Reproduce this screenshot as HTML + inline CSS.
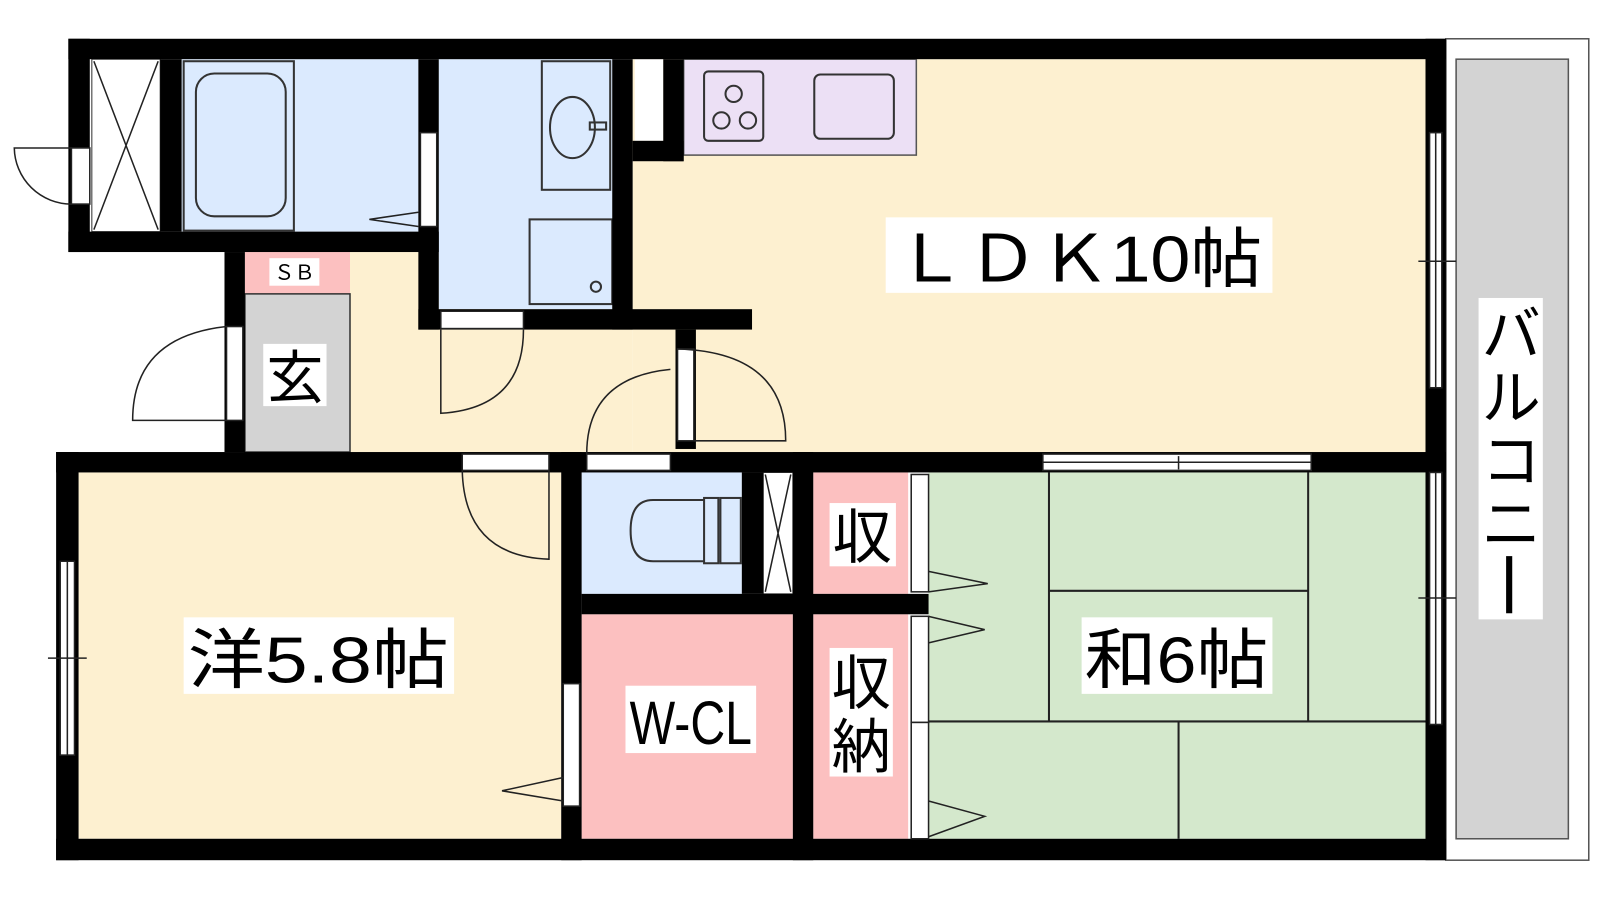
<!DOCTYPE html>
<html><head><meta charset="utf-8"><style>
html,body{margin:0;padding:0;background:#fff;width:1600px;height:900px;overflow:hidden}
svg{display:block}
text{font-family:"Liberation Sans","Noto Sans CJK JP",sans-serif;fill:#000}
</style></head><body>
<svg width="1600" height="900" viewBox="0 0 1600 900" xmlns="http://www.w3.org/2000/svg">
<g transform="scale(1.0204)">
<!-- floors -->
<rect x="620" y="58" width="777" height="385" fill="#fdf0d0"/>
<rect x="343" y="247" width="277" height="196" fill="#fdf0d0"/>
<rect x="178" y="58" width="232" height="169" fill="#dbeafe"/>
<rect x="430" y="58" width="170" height="245" fill="#dbeafe"/>
<rect x="670" y="58" width="228" height="94" fill="#ece0f5" stroke="#555" stroke-width="1.5"/>
<rect x="622" y="58" width="28" height="80" fill="#fff"/>
<rect x="240" y="247" width="103" height="41" fill="#fcc0c0"/>
<rect x="240" y="288" width="103" height="155" fill="#d3d3d3" stroke="#333" stroke-width="1.5"/>
<rect x="77" y="463" width="473" height="359" fill="#fdf0d0"/>
<rect x="570" y="463" width="157" height="119" fill="#dbeafe"/>
<rect x="570" y="602" width="207" height="220" fill="#fcc0c0"/>
<rect x="797" y="463" width="93" height="119" fill="#fcc0c0"/>
<rect x="797" y="602" width="93" height="220" fill="#fcc0c0"/>
<rect x="910" y="463" width="487" height="359" fill="#d4e8cc"/>
<!-- balcony -->
<rect x="1417" y="38" width="140" height="805" fill="#fff" stroke="#555" stroke-width="1.5"/>
<rect x="1427" y="58" width="110" height="764" fill="#d3d3d3" stroke="#555" stroke-width="1.5"/>
<!-- tatami lines -->
<g stroke="#222" stroke-width="2" fill="none">
<line x1="1028" y1="463" x2="1028" y2="707"/><line x1="1282" y1="463" x2="1282" y2="707"/>
<line x1="1028" y1="579" x2="1282" y2="579"/><line x1="910" y1="707" x2="1397" y2="707"/>
<line x1="1155" y1="707" x2="1155" y2="822"/>
</g>
<!-- fixtures -->
<g stroke="#333" stroke-width="2" fill="none">
<rect x="180" y="60" width="108" height="166"/>
<rect x="192" y="72" width="88" height="140" rx="18"/>
<rect x="531" y="60" width="67" height="126"/>
<ellipse cx="561" cy="125" rx="22" ry="30"/>
<rect x="578" y="120" width="16" height="7"/>
<rect x="519" y="215" width="81" height="83"/>
<circle cx="584" cy="281" r="5"/>
<rect x="690" y="70" width="58" height="68" rx="4"/>
<circle cx="719" cy="92" r="8"/><circle cx="707" cy="118" r="8"/><circle cx="733" cy="118" r="8"/>
<rect x="798" y="73" width="78" height="63" rx="6"/>
<path d="M690 490 L640 490 Q618 490 618 520 Q618 550 640 550 L690 550"/>
<rect x="690" y="488" width="14" height="64"/><rect x="706" y="488" width="20" height="64"/>
</g>
<!-- X boxes -->
<rect x="90" y="58" width="67" height="169" fill="#fff" stroke="#333"/>
<path d="M92 60 L155 225 M155 60 L92 225" stroke="#222" stroke-width="1.5"/>
<rect x="748" y="463" width="29" height="119" fill="#fff" stroke="#333"/>
<path d="M750 465 L775 580 M775 465 L750 580" stroke="#222" stroke-width="1.5"/>
<!-- walls -->
<g fill="#000">
<rect x="67" y="38" width="1350" height="20"/>
<rect x="67" y="38" width="21" height="209"/>
<rect x="67" y="227" width="363" height="20"/>
<rect x="157" y="58" width="21" height="169"/>
<rect x="410" y="58" width="20" height="265"/>
<rect x="600" y="58" width="20" height="265"/>
<rect x="650" y="58" width="20" height="100"/><rect x="620" y="138" width="50" height="20"/>
<rect x="410" y="303" width="327" height="20"/>
<rect x="662" y="323" width="20" height="117"/>
<rect x="220" y="247" width="20" height="196"/>
<rect x="1397" y="38" width="20" height="805"/>
<rect x="55" y="443" width="1362" height="20"/>
<rect x="55" y="443" width="22" height="400"/>
<rect x="55" y="822" width="1362" height="21"/>
<rect x="550" y="443" width="20" height="400"/>
<rect x="727" y="463" width="21" height="119"/>
<rect x="777" y="443" width="20" height="400"/>
<rect x="570" y="582" width="340" height="20"/>
</g>
<!-- openings / windows -->
<g fill="#fff" stroke="#222" stroke-width="1.5">
<rect x="412" y="130" width="16" height="92"/>
<rect x="432" y="305" width="81" height="17"/>
<rect x="222" y="320" width="16" height="92"/>
<rect x="664" y="342" width="16" height="90"/>
<rect x="453" y="445" width="85" height="16"/>
<rect x="575" y="445" width="82" height="16"/>
<rect x="1022" y="445" width="263" height="16"/>
<rect x="552" y="670" width="16" height="120"/>
<rect x="893" y="465" width="17" height="115"/>
<rect x="893" y="604" width="17" height="104"/>
<rect x="893" y="708" width="17" height="114"/>
<rect x="1401" y="130" width="12" height="250"/>
<rect x="1401" y="463" width="12" height="247"/>
<rect x="59" y="550" width="14" height="190"/>
<rect x="70" y="145" width="18" height="55"/>
</g>
<g stroke="#222" stroke-width="1.5" fill="none">
<line x1="1022" y1="453" x2="1285" y2="453"/><line x1="1155" y1="447" x2="1155" y2="460"/>
<line x1="1407" y1="130" x2="1407" y2="380"/><line x1="1407" y1="463" x2="1407" y2="710"/>
<line x1="1390" y1="256" x2="1427" y2="256"/><line x1="1390" y1="586" x2="1427" y2="586"/>
<line x1="66" y1="550" x2="66" y2="740"/><line x1="47" y1="645" x2="85" y2="645"/>
<path d="M70 145 L14 145 A56 56 0 0 0 70 200"/>
<path d="M222 320 Q130 330 130 412 L222 412"/>
<path d="M432 323 L432 405 Q513 400 513 323"/>
<path d="M664 342 Q770 345 770 432 L680 432"/>
<path d="M657 362 Q575 370 575 445"/>
<path d="M453 461 Q455 545 538 548 L538 461"/>
<path d="M552 762 L492 775 L552 785"/>
<path d="M410 208 L362 215 L410 222"/>
<path d="M910 560 L968 572 L910 580"/>
<path d="M910 604 L965 617 L910 630"/>
<path d="M910 785 L965 800 L910 820"/>
</g>
<!-- labels -->
<rect x="264" y="253" width="49" height="27" fill="#fff"/>
<text x="288.5" y="274" font-size="20" text-anchor="middle">ＳＢ</text>
<rect x="258" y="337" width="62" height="61" fill="#fff"/>
<text x="289" y="390" font-size="56" text-anchor="middle">玄</text>
<rect x="868" y="213" width="379" height="74" fill="#fff"/>
<text x="1057" y="276" font-size="64" text-anchor="middle" textLength="360" lengthAdjust="spacingAndGlyphs">ＬＤＫ10帖</text>
<rect x="180" y="605" width="265" height="75" fill="#fff"/>
<text x="312" y="669" font-size="64" text-anchor="middle" textLength="256" lengthAdjust="spacingAndGlyphs">洋5.8帖</text>
<rect x="1060" y="605" width="187" height="75" fill="#fff"/>
<text x="1153" y="669" font-size="64" text-anchor="middle" textLength="180" lengthAdjust="spacingAndGlyphs">和6帖</text>
<rect x="613" y="672" width="128" height="66" fill="#fff"/>
<text x="677" y="729" font-size="60" text-anchor="middle" textLength="120" lengthAdjust="spacingAndGlyphs">W-CL</text>
<rect x="813" y="493" width="65" height="62" fill="#fff"/>
<text x="845" y="547" font-size="58" text-anchor="middle">収</text>
<rect x="813" y="635" width="62" height="126" fill="#fff"/>
<text x="844" y="690" font-size="58" text-anchor="middle">収</text>
<text x="844" y="752" font-size="58" text-anchor="middle">納</text>
<rect x="1449" y="292" width="63" height="315" fill="#fff"/>
<text x="1481" y="348" font-size="58" text-anchor="middle">バ</text>
<text x="1481" y="410" font-size="58" text-anchor="middle">ル</text>
<text x="1481" y="472" font-size="58" text-anchor="middle">コ</text>
<text x="1481" y="534" font-size="58" text-anchor="middle">ニ</text>
<rect x="1476" y="545" width="6" height="56" fill="#000"/>
</g>
</svg>
</body></html>
